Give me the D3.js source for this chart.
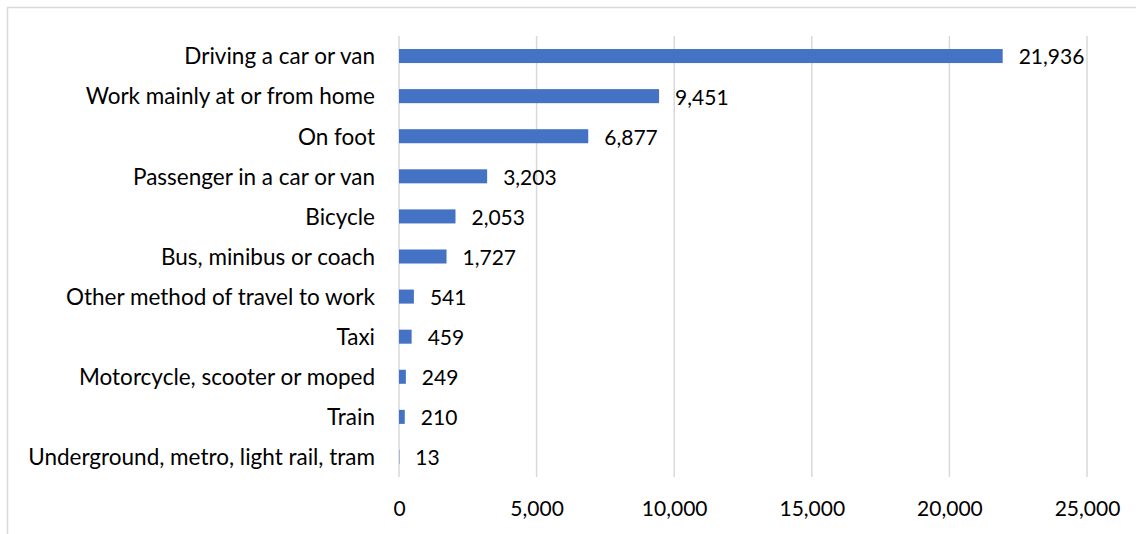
<!DOCTYPE html>
<html>
<head>
<meta charset="utf-8">
<script src="https://cdn.jsdelivr.net/npm/d3@7"></script>
<style>
  body { margin: 0; background: #fff; }
  svg { display: block; font-family: Lato, sans-serif; }
</style>
</head>
<body>
<svg id="chart" width="1136" height="534"></svg>
<script>
const categories = [
  "Driving a car or van",
  "Work mainly at or from home",
  "On foot",
  "Passenger in a car or van",
  "Bicycle",
  "Bus, minibus or coach",
  "Other method of travel to work",
  "Taxi",
  "Motorcycle, scooter or moped",
  "Train",
  "Underground, metro, light rail, tram"
];
const values = [21936, 9451, 6877, 3203, 2053, 1727, 541, 459, 249, 210, 13];
const xTicks = [0, 5000, 10000, 15000, 20000, 25000];

const fontFam = "Lato, sans-serif";
const fontSize = 22.5;   // category labels
const numSize = 21;      // numbers look a touch narrower in the original

const svg = d3.select("#chart");
const margin = { top: 36, left: 399, right: 49, bottom: 57 };
const width = 1136 - margin.left - margin.right,
  height = 534 - margin.top - margin.bottom;

// outer chart border (only top and left visible)
svg.append("rect")
  .attr("x", 7.5).attr("y", 7.5)
  .attr("width", 1200).attr("height", 600)
  .attr("fill", "none").attr("stroke", "#d9d9d9").attr("stroke-width", 1.5);

const x = d3.scaleLinear().domain([0, 25000]).range([0, width]);
const y = d3.scaleBand().domain(categories).range([0, height]).paddingInner(0.65).paddingOuter(0.325);

const g = svg.append("g").attr("transform", `translate(${margin.left},${margin.top})`);

// gridlines
g.selectAll(".grid")
  .data(xTicks)
  .join("line")
  .attr("class", "grid")
  .attr("x1", d => x(d)).attr("x2", d => x(d))
  .attr("y1", 0).attr("y2", height)
  .attr("stroke", "#d9d9d9").attr("stroke-width", 1.5);

// x axis labels
const xAxis = g.append("g")
  .attr("transform", `translate(0,${height})`)
  .call(d3.axisBottom(x).tickValues(xTicks).tickFormat(d3.format(",")).tickSize(0).tickPadding(24));
xAxis.select(".domain").remove();
xAxis.selectAll("text").attr("font-size", numSize).attr("fill", "#000").attr("font-family", fontFam);

// y axis labels
const yAxis = g.append("g")
  .call(d3.axisLeft(y).tickSize(0).tickPadding(24));
yAxis.select(".domain").remove();
yAxis.selectAll("text").attr("font-size", fontSize).attr("fill", "#000").attr("font-family", fontFam)
  .attr("dy", "0.37em");

// bars
g.selectAll(".bar")
  .data(values)
  .join("rect")
  .attr("class", "bar")
  .attr("x", x(0))
  .attr("y", (d, i) => y(categories[i]))
  .attr("width", d => x(d) - x(0))
  .attr("height", y.bandwidth())
  .attr("fill", "#4472c4");

// value labels
g.selectAll(".val")
  .data(values)
  .join("text")
  .attr("class", "val")
  .attr("x", d => x(d) + 16)
  .attr("y", (d, i) => y(categories[i]) + y.bandwidth() / 2)
  .attr("dy", "0.4em")
  .attr("font-size", numSize)
  .attr("font-family", fontFam)
  .attr("fill", "#000")
  .text(d => d3.format(",")(d));
</script>
</body>
</html>
